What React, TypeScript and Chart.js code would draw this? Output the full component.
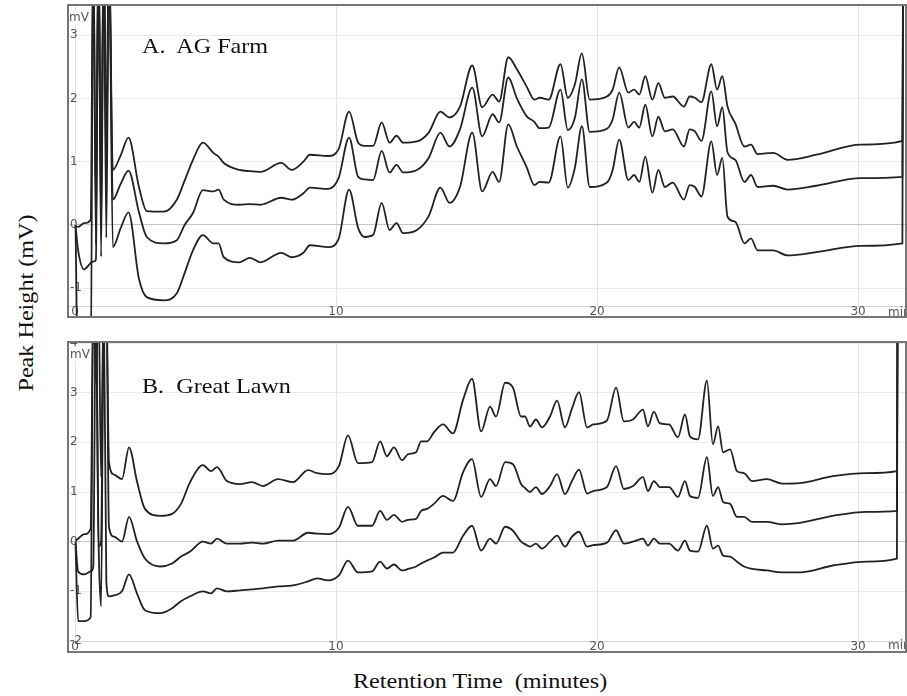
import React, { useEffect, useRef } from 'react';
import { Chart, registerables } from 'chart.js';

Chart.register(...registerables);

// ---------- Panel A: AG Farm ----------
const timesA = [
  0.02, 0.12, 0.35, 0.6, 0.7, 0.8, 0.9, 1.0, 1.1, 1.2, 1.3, 1.45,
  1.75, 2.05, 2.45, 2.75, 3.4, 3.9, 4.2, 4.52, 4.9, 5.3,
  5.5, 5.7, 6.3, 6.7, 7.1, 7.9, 8.3, 8.75, 9.0, 9.7,
  10.1, 10.5, 10.85, 11.1, 11.42, 11.75, 12.05, 12.32, 12.57, 13.1,
  13.55, 14.0, 14.35, 14.75, 15.22, 15.6, 16.0, 16.25, 16.6, 16.93,
  17.3, 17.6, 17.8, 18.15, 18.6, 18.88, 19.15, 19.42, 19.72, 20.38,
  20.6, 20.85, 21.2, 21.42, 21.62, 21.85, 22.12, 22.35, 22.6, 22.9,
  23.33, 23.55, 23.75, 24.0, 24.38, 24.6, 24.8, 25.0, 25.3, 25.65,
  25.9, 26.15, 26.75, 27.3, 28.4, 30.1, 31.7, 31.74,
];
const farmTop = [
  -0.02, -0.03, 0.03, 0.08, 4.5, 0.3, 4.5, 0.6, 4.5, 1.2, 4.5, 0.87,
  1.1, 1.38, 0.6, 0.22, 0.21, 0.40, 0.7, 1.03, 1.30, 1.14,
  1.08, 0.98, 0.87, 0.85, 0.84, 0.98, 0.87, 1.0, 1.11, 1.09,
  1.2, 1.79, 1.30, 1.25, 1.25, 1.62, 1.30, 1.41, 1.30, 1.32,
  1.46, 1.79, 1.70, 1.87, 2.52, 1.86, 2.06, 1.95, 2.65, 2.46,
  2.19, 1.98, 2.01, 1.98, 2.54, 2.01, 2.22, 2.71, 1.98, 2.03,
  2.14, 2.49, 2.09, 2.14, 2.06, 2.35, 1.98, 2.24, 2.01, 2.03,
  1.87, 2.03, 2.01, 1.94, 2.54, 2.14, 2.35, 1.87, 1.6, 1.24,
  1.27, 1.12, 1.14, 1.03, 1.11, 1.27, 1.33, 6,
];
const farmMid = [
  0.0, -0.4, -0.7, -0.6, -0.58, -0.55, 4.5, -0.5, 4.5, 0.7, 4.5, 0.40,
  0.65, 0.86, 0.2, -0.19, -0.29, -0.24, 0.0, 0.19, 0.55, 0.53,
  0.56, 0.40, 0.32, 0.33, 0.32, 0.43, 0.40, 0.5, 0.59, 0.57,
  0.74, 1.38, 0.76, 0.72, 0.71, 1.17, 0.83, 0.95, 0.83, 0.87,
  1.06, 1.46, 1.24, 1.51, 2.17, 1.40, 1.75, 1.62, 2.33, 2.0,
  1.72, 1.63, 1.53, 1.54, 2.14, 1.50, 1.69, 2.30, 1.47, 1.52,
  1.67, 2.09, 1.54, 1.63, 1.54, 1.90, 1.40, 1.71, 1.48, 1.51,
  1.24, 1.51, 1.48, 1.33, 2.11, 1.56, 1.86, 1.15, 1.03, 0.68,
  0.79, 0.60, 0.62, 0.56, 0.62, 0.74, 0.76, 6,
];
const farmLow = [
  0.0, -2.5, -2.5, -2.5, 4.5, -0.3, 4.5, 0.0, 4.5, -0.2, 4.5, -0.35,
  -0.05, 0.2, -0.85, -1.14, -1.19, -1.08, -0.76, -0.40, -0.16, -0.29,
  -0.29, -0.51, -0.59, -0.52, -0.59, -0.44, -0.51, -0.44, -0.32, -0.35,
  -0.22, 0.56, -0.05, -0.19, -0.16, 0.35, -0.08, 0.03, -0.13, -0.08,
  0.14, 0.59, 0.35, 0.60, 1.46, 0.53, 0.84, 0.68, 1.59, 1.24,
  0.92, 0.63, 0.68, 0.67, 1.40, 0.59, 0.9, 1.56, 0.60, 0.67,
  0.87, 1.35, 0.71, 0.79, 0.68, 1.08, 0.51, 0.87, 0.60, 0.67,
  0.40, 0.63, 0.6, 0.45, 1.32, 0.79, 1.06, 0.13, 0.05, -0.29,
  -0.21, -0.40, -0.40, -0.48, -0.43, -0.33, -0.29, 6,
];

// ---------- Panel B: Great Lawn ----------
const timesB = [
  0.02, 0.12, 0.35, 0.6, 0.7, 0.8, 0.9, 1.0, 1.1, 1.2, 1.3, 1.5,
  1.8, 2.07, 2.38, 2.68, 3.26, 3.72, 4.06, 4.41, 4.9, 5.21,
  5.44, 5.82, 6.32, 6.78, 7.2, 7.78, 8.35, 8.93, 9.27, 9.69,
  10.11, 10.46, 10.84, 11.38, 11.69, 11.95, 12.22, 12.53, 12.76, 13.07,
  13.26, 13.49, 13.75, 14.1, 14.48, 14.87, 15.21, 15.56, 15.9, 16.13,
  16.48, 16.78, 17.09, 17.24, 17.43, 17.66, 17.89, 18.2, 18.47, 18.77,
  19.04, 19.31, 19.62, 19.85, 20.38, 20.73, 21.03, 21.38, 21.76, 21.95,
  22.18, 22.41, 22.76, 23.1, 23.37, 23.56, 23.87, 24.21, 24.44, 24.64,
  24.83, 25.1, 25.36, 25.63, 25.94, 26.51, 27.09, 27.78, 29.04, 30.34,
  31.49, 31.52,
];
const lawnTop = [
  0.02, 0.06, 0.15, 0.26, 5, 3.2, 5, 1.3, 5, 5, 1.6, 1.35,
  1.26, 1.9, 1.2, 0.66, 0.52, 0.56, 0.76, 1.20, 1.54, 1.42,
  1.50, 1.22, 1.16, 1.20, 1.12, 1.26, 1.20, 1.44, 1.38, 1.36,
  1.52, 2.14, 1.58, 1.60, 2.02, 1.72, 1.90, 1.64, 1.76, 1.80,
  2.02, 2.02, 2.20, 2.36, 2.18, 2.86, 3.28, 2.22, 2.72, 2.52,
  3.20, 3.10, 2.52, 2.52, 2.32, 2.46, 2.30, 2.52, 2.84, 2.30,
  2.68, 3.01, 2.30, 2.36, 2.44, 3.10, 2.42, 2.46, 2.66, 2.32,
  2.62, 2.38, 2.36, 2.10, 2.56, 2.12, 2.06, 3.24, 1.96, 2.32,
  1.80, 1.86, 1.42, 1.38, 1.22, 1.26, 1.17, 1.18, 1.32, 1.38,
  1.42, 6,
];
const lawnMid = [
  0.0, -0.6, -0.66, -0.6, -0.5, 5, 0.1, -1.3, 5, 5, 0.3, 0.1,
  0.0, 0.5, 0.0, -0.34, -0.5, -0.44, -0.3, -0.2, 0.0, -0.04,
  0.06, -0.04, -0.04, -0.02, -0.04, 0.02, 0.02, 0.18, 0.16, 0.15,
  0.28, 0.70, 0.32, 0.32, 0.62, 0.44, 0.54, 0.40, 0.44, 0.46,
  0.62, 0.66, 0.76, 0.92, 0.82, 1.40, 1.66, 0.90, 1.26, 1.12,
  1.60, 1.56, 1.16, 1.08, 1.0, 1.10, 0.96, 1.12, 1.36, 0.96,
  1.22, 1.45, 0.97, 1.02, 1.10, 1.52, 1.06, 1.12, 1.30, 1.02,
  1.22, 1.10, 1.10, 0.90, 1.22, 0.92, 0.88, 1.70, 0.92, 1.10,
  0.80, 0.76, 0.50, 0.50, 0.40, 0.40, 0.35, 0.38, 0.52, 0.60,
  0.62, 6,
];
const lawnLow = [
  -0.05, -1.6, -1.6, -1.52, 5, 5, -0.1, 0.0, 5, -0.8, -1.1, -1.08,
  -1.0, -0.66, -1.05, -1.38, -1.44, -1.34, -1.2, -1.1, -1.0, -1.04,
  -0.94, -1.0, -0.98, -0.96, -0.94, -0.90, -0.88, -0.80, -0.74, -0.78,
  -0.68, -0.38, -0.62, -0.60, -0.40, -0.54, -0.46, -0.58, -0.55, -0.50,
  -0.44, -0.38, -0.32, -0.22, -0.22, 0.12, 0.32, -0.18, 0.06, -0.04,
  0.30, 0.22, 0.0, -0.05, -0.1, -0.04, -0.14, 0.0, 0.12, -0.1,
  0.1, 0.2, -0.1, -0.07, -0.02, 0.23, -0.04, 0.0, 0.06, -0.08,
  0.06, -0.04, -0.04, -0.18, 0.02, -0.18, -0.2, 0.32, -0.14, -0.08,
  -0.28, -0.30, -0.40, -0.50, -0.55, -0.58, -0.62, -0.62, -0.48, -0.40,
  -0.34, 6,
];

// ---------- Axis ticks ----------
const xTicks = [0, 10, 20, 30];
const yTicksA = [-1, 0, 1, 2, 3];
const yTicksB = [-2, -1, 0, 1, 2, 3, 4];

const X_MIN = -0.23;
const X_MAX = 31.8;
const TICK_FONT = { family: 'DejaVu Sans', size: 12 };
const TITLE_FONT = '"Liberation Serif", "Times New Roman", serif';

type PanelProps = {
  top: number;
  height: number;
  times: number[];
  series: number[][];
  yMin: number;
  yMax: number;
  yTicks: number[];
  title: string;
  titleTop: number;
  mvLeft: number;
  mvTop: number;
  minTop: number;
};

function Panel(props: PanelProps) {
  const ref = useRef<HTMLCanvasElement | null>(null);
  const canvasW = 836;
  const canvasH = props.height - 4;

  useEffect(() => {
    const canvas = ref.current;
    if (!canvas) return;
    const datasets = props.series.map((vals) => ({
      data: props.times.map((t, i) => ({ x: t, y: vals[i] })),
      borderColor: '#222',
      borderWidth: 1.8,
      pointRadius: 0,
      fill: false,
      cubicInterpolationMode: 'monotone' as const,
      clip: false as any,
    }));
    const chart = new Chart(canvas, {
      type: 'line',
      data: { datasets },
      options: {
        animation: false,
        responsive: false,
        devicePixelRatio: 1,
        events: [],
        layout: { padding: 0 },
        plugins: {
          legend: { display: false },
          tooltip: { enabled: false },
          title: { display: false },
        },
        scales: {
          x: {
            type: 'linear',
            min: X_MIN,
            max: X_MAX,
            afterBuildTicks: (s: any) => {
              s.ticks = xTicks.map((v) => ({ value: v }));
            },
            afterFit: (s: any) => {
              s.height = 10;
              s.paddingLeft = 0;
              s.paddingRight = 0;
            },
            grid: { color: '#e3e3e3', drawTicks: false },
            border: { display: true, color: '#d4d4d4' },
            ticks: {
              padding: -1,
              font: TICK_FONT,
              color: '#555',
              maxRotation: 0,
              autoSkip: false,
            },
          },
          y: {
            type: 'linear',
            min: props.yMin,
            max: props.yMax,
            afterBuildTicks: (s: any) => {
              s.ticks = props.yTicks.map((v) => ({ value: v }));
            },
            afterFit: (s: any) => {
              s.width = 0;
              s.paddingTop = 0;
              s.paddingBottom = 0;
            },
            grid: {
              color: (ctx: any) => (ctx.tick && ctx.tick.value === 0 ? '#c6c6c6' : '#ebebeb'),
              drawTicks: false,
            },
            border: { display: false },
            ticks: {
              mirror: true,
              padding: 1,
              font: TICK_FONT,
              color: '#555',
              autoSkip: false,
            },
          },
        },
      },
    });
    return () => chart.destroy();
  }, []);

  const labelStyle: React.CSSProperties = {
    position: 'absolute',
    fontFamily: 'DejaVu Sans, sans-serif',
    fontSize: 12,
    lineHeight: '14px',
    color: '#555',
    whiteSpace: 'pre',
  };

  return (
    <div
      style={{
        position: 'absolute',
        left: 67,
        top: props.top,
        width: 840,
        height: props.height,
        border: '2px solid #767676',
        boxSizing: 'border-box',
        overflow: 'hidden',
        background: '#fff',
      }}
    >
      <canvas
        ref={ref}
        width={canvasW}
        height={canvasH}
        style={{ position: 'absolute', left: 0, top: 0, width: canvasW, height: canvasH, display: 'block' }}
      />
      <span style={{ ...labelStyle, left: props.mvLeft, top: props.mvTop, background: '#fff' }}>mV</span>
      <span style={{ ...labelStyle, left: 819, top: props.minTop }}>min</span>
      <span
        style={{
          position: 'absolute',
          left: 73,
          top: props.titleTop,
          fontFamily: TITLE_FONT,
          fontSize: 21,
          lineHeight: '21px',
          color: '#111',
          whiteSpace: 'pre',
          transform: 'scaleX(1.15)',
          transformOrigin: 'left top',
        }}
      >
        {props.title}
      </span>
    </div>
  );
}

export default function App() {
  return (
    <div
      style={{
        position: 'absolute',
        left: 0,
        top: 0,
        width: 907,
        height: 696,
        background: '#fff',
        overflow: 'hidden',
      }}
    >
      <Panel
        top={4}
        height={314}
        times={timesA}
        series={[farmTop, farmMid, farmLow]}
        yMin={-1.28}
        yMax={3.46}
        yTicks={yTicksA}
        title={'A.  AG Farm'}
        titleTop={30}
        mvLeft={0}
        mvTop={4}
        minTop={299}
      />
      <Panel
        top={341}
        height={312}
        times={timesB}
        series={[lawnTop, lawnMid, lawnLow]}
        yMin={-2}
        yMax={4}
        yTicks={yTicksB}
        title={'B.  Great Lawn'}
        titleTop={33}
        mvLeft={1}
        mvTop={4}
        minTop={295}
      />
      <span
        style={{
          position: 'absolute',
          left: 26,
          top: 303,
          fontFamily: TITLE_FONT,
          fontSize: 21,
          lineHeight: '21px',
          color: '#111',
          whiteSpace: 'pre',
          transform: 'translate(-50%, -50%) rotate(-90deg) scaleX(1.15)',
        }}
      >
        Peak Height (mV)
      </span>
      <span
        style={{
          position: 'absolute',
          left: 353,
          top: 671,
          fontFamily: TITLE_FONT,
          fontSize: 21,
          lineHeight: '21px',
          color: '#111',
          whiteSpace: 'pre',
          transform: 'scaleX(1.15)',
          transformOrigin: 'left top',
        }}
      >
        Retention Time  (minutes)
      </span>
    </div>
  );
}
